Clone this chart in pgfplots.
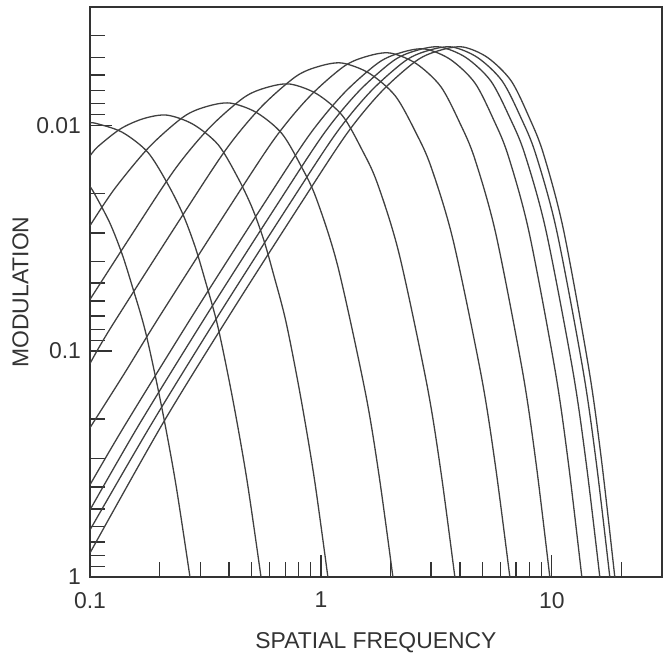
\documentclass[border=0pt]{standalone}
\usepackage{pgfplots}
\pgfplotsset{compat=1.18}
\usepackage{fontspec}
\setmainfont{Liberation Sans}

\begin{document}
\begin{tikzpicture}
\begin{axis}[
  width=286bp, height=285bp, scale only axis,
  xmode=log, ymode=log,
  xmin=0.1, xmax=30, ymin=0.003, ymax=1,
  y dir=reverse,
  axis line style={black!80, line width=0.6pt},
  tick align=inside,
  xtick pos=left, xticklabel pos=left,
  ytick pos=left,
  xtick={0.1,1,10}, xticklabels={0.1,1,10},
  ytick={0.01,0.1,1}, yticklabels={0.01,0.1,1},
  minor xtick={0.2,0.3,0.4,0.5,0.6,0.7,0.8,0.9,2,3,4,5,6,7,8,9,20},
  minor ytick={0.003,0.004,0.005,0.006,0.007,0.008,0.009,0.02,0.03,0.04,0.05,0.06,0.07,0.08,0.09,0.2,0.3,0.4,0.5,0.6,0.7,0.8,0.9},
  major tick length=11bp, minor tick length=7.5bp,
  every tick/.style={black!80, line width=0.6pt},
  tick label style={font=\fontsize{11.5}{13}\selectfont, text=black!80},
  xticklabel style={yshift=-4bp},
  yticklabel style={xshift=-1bp},
  /pgf/number format/assume math mode=true,
  xlabel={SPATIAL FREQUENCY}, ylabel={MODULATION},
  label style={font=\fontsize{11.5}{13}\selectfont, text=black!80},
  xlabel style={yshift=-5.5bp},
  ylabel style={yshift=-3bp},
  cv/.style={black!75, line width=0.65pt, smooth, solid, no marks},
]
\coordinate (bl) at (axis cs:0.1,1);
\coordinate (tr) at (axis cs:30,0.003);
% curve 0
\addplot[cv] coordinates {(0.1,0.01873) (0.1042,0.01998) (0.1216,0.02696) (0.1375,0.03703) (0.1523,0.05155) (0.1740,0.08234) (0.2030,0.1708) (0.2345,0.3798) (0.2710,1)};
% curve A
\addplot[cv] coordinates {(0.1,0.00982) (0.1051,0.0098) (0.1376,0.01074) (0.1780,0.01319) (0.2176,0.01829) (0.2527,0.02484) (0.2848,0.03437) (0.3145,0.04821) (0.3578,0.07782) (0.4155,0.1641) (0.4782,0.3716) (0.5503,1)};
% curve B
\addplot[cv] coordinates {(0.1,0.0137) (0.1080,0.01247) (0.1359,0.01037) (0.1711,0.009348) (0.2154,0.009031) (0.2797,0.009917) (0.3592,0.01222) (0.4362,0.01704) (0.5042,0.02327) (0.5664,0.03238) (0.6233,0.04569) (0.7063,0.07437) (0.8166,0.159) (0.9359,0.3652) (1.072,1)};
% curve C
\addplot[cv] coordinates {(0.1,0.02786) (0.1277,0.01916) (0.1804,0.01251) (0.2547,0.00917) (0.3207,0.008268) (0.4037,0.007987) (0.5259,0.008794) (0.6773,0.01089) (0.8245,0.01532) (0.955,0.0211) (1.1836,0.04216) (1.556,0.1515) (1.786,0.3556) (2.050,1)};
% curve D
\addplot[cv] coordinates {(0.1,0.05909) (0.1465,0.03223) (0.2322,0.01578) (0.3280,0.01031) (0.4633,0.007555) (0.5833,0.006811) (0.7342,0.00658) (0.9594,0.007271) (1.2396,0.009084) (1.5126,0.01296) (1.7552,0.01807) (2.1812,0.03713) (2.8767,0.1404) (3.3075,0.3412) (3.8028,1)};
% curve E
\addplot[cv] coordinates {(0.1,0.1136) (0.1233,0.07855) (0.2460,0.02601) (0.3898,0.01274) (0.5507,0.008321) (0.7779,0.006097) (0.9793,0.005497) (1.2329,0.00531) (1.6188,0.005894) (2.1014,0.007434) (2.5735,0.01076) (2.9943,0.01523) (3.7358,0.03226) (4.9522,0.1292) (5.7083,0.326) (6.5798,1)};
% curve F
\addplot[cv] coordinates {(0.1,0.2184) (0.1408,0.1258) (0.1989,0.07091) (0.3969,0.02348) (0.6291,0.0115) (0.8886,0.007511) (1.2551,0.005504) (1.5801,0.004963) (1.9893,0.004794) (2.5787,0.005332) (3.3059,0.006755) (4.0097,0.009854) (4.6312,0.01403) (5.7173,0.03017) (7.4783,0.1241) (8.5625,0.3189) (9.8017,1)};
% curve G
\addplot[cv] coordinates {(0.1,0.3908) (0.1413,0.2138) (0.2820,0.06808) (0.5626,0.02254) (0.8917,0.01104) (1.2595,0.007211) (1.7791,0.005284) (2.2398,0.004764) (2.8197,0.004602) (3.6374,0.005123) (4.6422,0.006503) (5.6092,0.009513) (6.4623,0.01358) (7.947,0.02938) (10.339,0.1222) (11.809,0.3162) (13.487,1)};
% curve H
\addplot[cv] coordinates {(0.1,0.5045) (0.1641,0.2095) (0.3275,0.0667) (0.6534,0.02209) (1.0356,0.01082) (1.4627,0.007065) (2.0662,0.005177) (2.6013,0.004668) (3.2749,0.004509) (4.2454,0.005021) (5.4423,0.006378) (6.6008,0.009344) (7.6245,0.01336) (9.4118,0.02898) (12.312,0.1212) (14.097,0.3147) (16.136,1)};
% curve I
\addplot[cv] coordinates {(0.1,0.6189) (0.1850,0.2095) (0.3690,0.0667) (0.7364,0.02209) (1.1671,0.01082) (1.6486,0.007065) (2.3287,0.005177) (2.9316,0.004668) (3.6907,0.004509) (4.7686,0.005021) (6.0937,0.006378) (7.3741,0.009344) (8.5014,0.01336) (10.469,0.02898) (13.646,0.1212) (15.600,0.3147) (17.828,1)};
% curve J
\addplot[cv] coordinates {(0.1,0.7827) (0.2064,0.2095) (0.4118,0.0667) (0.8219,0.02209) (1.3022,0.01082) (1.8395,0.007065) (2.5983,0.005177) (3.2711,0.004668) (4.1181,0.004509) (5.2701,0.005021) (6.673,0.006378) (8.0148,0.009344) (9.192,0.01336) (11.228,0.02898) (14.490,0.1212) (16.478,0.3147) (18.737,1)};
\end{axis}
\path ([shift={(-45bp,-40bp)}]bl) rectangle ([shift={(3bp,3.5bp)}]tr);
\end{tikzpicture}
\end{document}
